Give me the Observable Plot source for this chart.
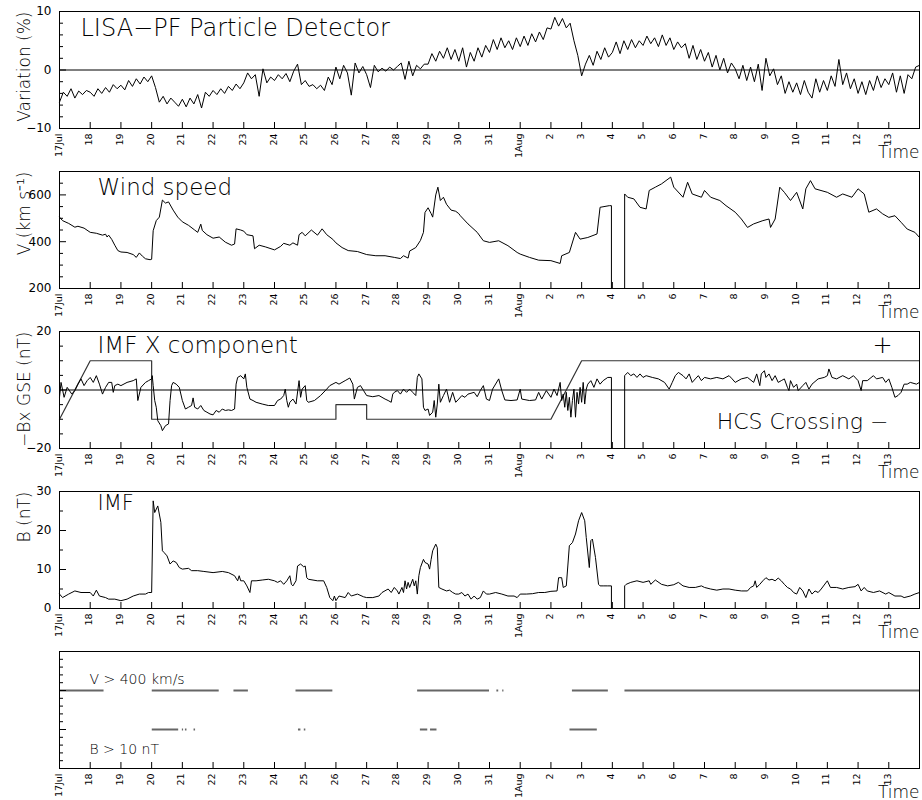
<!DOCTYPE html>
<html>
<head>
<meta charset="utf-8">
<script src="https://cdn.jsdelivr.net/npm/d3@7"></script>
<script src="https://cdn.jsdelivr.net/npm/@observablehq/plot@0.6"></script>
<style>
html, body { margin: 0; padding: 0; background: #fff; }
#chart { width: 922px; }
#chart svg { display: block; }
</style>
</head>
<body>
<div id="chart"></div>
<script>
// ---------- time axis (days since 17 Jul 00:00) ----------
const dayLabels = ["17Jul","18","19","20","21","22","23","24","25","26","27","28","29","30","31",
  "1Aug","2","3","4","5","6","7","8","9","10","11","12","13"];
const timeDomain = [0, 28];

// ---------- Panel 1: LISA-PF particle detector variation (%), 8 samples per day ----------
const particleStep = 0.125;
const particleVar = [
  -5.5,-3.8,-4.5,-3.2,-4.8,-3.6,-4.2,-3.5,   // 17 Jul
  -3.8,-4.5,-3.2,-4.0,-3.0,-3.8,-2.5,-3.2,   // 18
  -2.6,-3.4,-1.8,-2.8,-1.5,-2.4,-1.2,-2.0,   // 19
  -1.0,-3.0,-5.5,-4.5,-5.8,-4.8,-5.5,-6.2,   // 20
  -5.0,-6.3,-4.8,-5.8,-4.2,-6.5,-3.8,-4.5,   // 21
  -3.5,-4.2,-3.2,-4.0,-2.8,-3.5,-2.4,-3.2,   // 22
  -2.2,-0.5,-1.5,-0.8,-4.5, 0.2,-2.2,-1.2,   // 23
  -1.8,-0.8,-1.5,-0.6,-2.0,-0.2, 1.0,-2.5,   // 24
  -1.8,-2.8,-2.5,-3.2,-2.6,-3.5,-1.2,-2.5,   // 25
   0.5,-1.5, 0.8,-0.5,-4.3, 1.2,-0.5, 0.6,   // 26
  -0.8,-3.0, 0.8,-0.3, 0.3,-0.2, 0.5, 0.0,   // 27
   0.6, 1.2,-1.6, 1.5,-1.0, 0.8, 0.2, 1.0,   // 28
   1.0, 2.8, 1.5, 3.2, 2.0, 3.8, 1.8, 3.5,   // 29
   1.5, 3.8, 0.5, 3.0, 1.5, 3.8, 2.2, 4.2,   // 30
   3.0, 5.2, 3.5, 5.5, 3.8, 5.0, 3.5, 5.5,   // 31
   4.0, 5.8, 4.2, 6.2, 4.8, 6.5, 5.2, 7.2,   // 1 Aug
   7.0, 9.0, 7.5, 8.8, 7.2, 8.0, 5.0, 2.5,   // 2
  -1.0, 1.0, 2.5, 0.8, 3.2, 1.8, 3.8, 2.2,   // 3
   3.0, 4.8, 2.8, 5.0, 3.5, 5.2, 3.8, 5.0,   // 4
   4.2, 5.8, 4.5, 5.5, 4.0, 6.0, 4.2, 5.5,   // 5
   3.5, 4.8, 3.8, 4.5, 2.0, 4.2, 1.8, 3.5,   // 6
   1.5, 3.0, 0.5, 2.5, 0.0, 2.0,-0.5, 1.2,   // 7
   0.2,-1.5, 0.8,-1.8, 0.5,-2.0, 1.0,-3.5,   // 8
   2.0,-1.0, 0.2,-2.5,-1.0,-4.0,-2.0,-3.8,   // 9
  -2.2,-4.2,-1.8,-3.8,-4.8,-1.5,-3.8,-1.8,   // 10
  -3.5,-1.0,-2.8, 1.8,-2.5,-0.5,-3.2,-1.5,   // 11
  -4.0,-2.0,-4.2,-1.8,-3.5,-1.0,-3.0,-1.5,   // 12
  -2.5,-0.5,-3.8,-1.0,-4.0,-0.8,-1.5, 0.5,   // 13
   0.8                                       // 14 Aug 00:00
];

// ---------- Panel 2: solar wind speed (km/s) ----------
const windT = [0,0.1,0.3,0.5,0.6,0.8,1.0,1.2,1.4,1.5,
  1.55,1.6,1.7,1.8,1.9,2.0,2.2,2.4,2.5,2.6,
  2.7,2.8,2.95,3.0,3.05,3.15,3.25,3.35,3.45,3.55,
  3.7,3.85,4.0,4.2,4.4,4.5,4.6,4.65,4.8,5.0,
  5.2,5.4,5.6,5.7,5.75,5.9,6.0,6.1,6.3,6.35,
  6.5,6.7,7.0,7.2,7.3,7.5,7.6,7.75,7.8,7.9,
  8.0,8.2,8.4,8.55,8.7,8.9,9.0,9.2,9.4,9.7,
  10.0,10.3,10.6,10.9,11.1,11.2,11.35,11.4,11.6,11.75,
  11.85,11.9,12.0,12.1,12.15,12.25,12.32,12.4,12.5,12.6,
  12.75,12.9,13.0,13.05,13.3,13.6,13.8,14.0,14.3,14.6,
  14.9,15.0,15.3,15.6,16.0,16.3,16.35,16.6,16.8,16.95,
  17.2,17.5,17.6,17.9,17.97,17.97,18.4,18.4,18.5,18.7,
  18.9,19.1,19.2,19.4,19.6,19.9,20.0,20.3,20.45,20.6,
  20.9,21.0,21.2,21.5,21.7,22.0,22.2,22.4,22.6,22.9,
  23.1,23.15,23.3,23.45,23.6,23.8,24.0,24.2,24.3,24.45,
  24.6,25.0,25.3,25.5,25.8,26.0,26.2,26.35,26.6,26.8,
  27.0,27.2,27.4,27.6,27.85,28.0];
const windV = [505,490,478,462,466,458,440,436,428,432,
  420,428,410,385,362,356,354,345,333,352,
  338,327,323,325,447,490,505,578,565,570,
  535,505,485,470,450,440,475,448,430,415,
  420,398,385,390,455,450,445,430,425,370,
  385,378,365,380,393,385,395,385,430,440,
  425,450,428,455,430,410,395,375,362,358,
  345,340,340,333,328,340,330,360,375,405,
  440,525,545,520,505,600,633,576,590,560,
  535,530,520,511,476,440,404,397,404,383,
  354,347,333,321,319,307,340,354,440,411,
  418,433,547,554,554,200,200,604,590,583,
  547,540,619,633,647,676,633,590,654,604,
  590,619,590,576,554,526,497,461,476,490,
  497,461,497,633,611,576,611,540,626,661,
  626,611,590,604,590,626,604,526,540,519,
  504,511,483,454,440,418];

// ---------- Panel 3: -Bx GSE (nT) as [day, value] ----------
const bxSeries = [
  [0,-2.5],[0.05,2.6],[0.15,-2.5],[0.25,0.9],[0.4,-1.4],[0.5,-0.2],[0.6,2.0],[0.7,3.8],[0.8,1.5],[0.9,3.2],
  [1.0,4.3],[1.1,2.6],[1.2,4.9],[1.3,2.0],[1.4,-1.4],[1.5,0.9],[1.6,2.6],[1.7,2.6],[1.75,-0.8],[1.8,1.5],
  [1.9,2.0],[2.0,1.5],[2.2,2.6],[2.4,3.2],[2.5,3.8],[2.55,-3.6],[2.65,0.9],[2.8,2.6],[2.9,3.2],[3.0,3.8],
  [3.02,4.9],[3.05,1.5],[3.1,-3.6],[3.15,-5.9],[3.2,-10.5],[3.3,-12.2],[3.35,-13.9],[3.45,-12.2],[3.55,-11.6],[3.6,-3.6],
  [3.65,1.5],[3.7,2.6],[3.8,2.0],[3.9,0.9],[4.0,-3.6],[4.1,-6.5],[4.2,-5.9],[4.3,-5.3],[4.35,-2.7],[4.4,-5.9],
  [4.5,-6.5],[4.6,-5.3],[4.7,-7.0],[4.8,-7.6],[4.9,-8.2],[5.0,-8.5],[5.1,-7.0],[5.2,-7.6],[5.3,-6.5],[5.4,-7.0],
  [5.5,-6.8],[5.6,-7.0],[5.7,-6.5],[5.75,2.0],[5.8,4.3],[5.9,4.9],[6.0,3.8],[6.05,5.5],[6.1,0.9],[6.2,-3.1],
  [6.3,-3.6],[6.4,-4.2],[6.6,-4.8],[6.8,-5.3],[7.0,-5.3],[7.1,-3.6],[7.2,-3.1],[7.3,-1.9],[7.35,0.3],[7.4,-3.6],
  [7.45,-5.9],[7.5,-4.2],[7.6,-3.1],[7.7,-4.8],[7.8,3.2],[7.85,-2.5],[7.9,0.3],[8.0,1.5],[8.05,-3.6],[8.1,-4.2],
  [8.3,-3.6],[8.5,-1.9],[8.7,0.3],[8.8,1.5],[9.0,2.6],[9.1,2.0],[9.3,3.2],[9.45,4.1],[9.55,2.0],[9.6,-3.1],
  [9.7,0.9],[9.8,1.5],[9.9,-0.2],[10.0,-1.9],[10.2,-2.3],[10.4,-1.9],[10.6,-3.1],[10.7,-3.6],[10.8,-4.2],[10.85,-1.4],
  [10.9,-0.8],[11.0,-0.2],[11.1,-1.4],[11.2,0.3],[11.3,-0.8],[11.4,0.3],[11.5,-0.8],[11.6,-1.9],[11.65,4.3],[11.7,5.5],
  [11.8,3.8],[11.85,-5.9],[11.9,-7.0],[12.0,-6.5],[12.05,-8.7],[12.15,-7.6],[12.2,-3.6],[12.25,-9.3],[12.3,-4.8],[12.35,2.0],
  [12.4,-4.2],[12.5,-1.9],[12.6,0.3],[12.7,-4.2],[12.8,-0.8],[12.9,-4.2],[13.0,-3.1],[13.1,-1.9],[13.2,-2.5],[13.3,-1.4],
  [13.5,-0.8],[13.6,-2.3],[13.7,-0.2],[13.8,1.5],[13.9,-3.1],[14.0,-3.6],[14.1,0.3],[14.3,3.8],[14.4,-0.2],[14.5,-3.4],
  [14.7,-3.6],[14.9,-3.4],[15.0,0.3],[15.05,-3.1],[15.3,-3.6],[15.5,-3.4],[15.6,-0.8],[15.7,-3.1],[15.85,-0.2],[16.0,-2.5],
  [16.1,0.3],[16.2,-1.9],[16.3,2.6],[16.35,-3.6],[16.4,-1.4],[16.45,-5.9],[16.5,-0.8],[16.55,-7.0],[16.6,-2.5],[16.65,-9.3],
  [16.7,-3.6],[16.75,0.3],[16.8,-9.3],[16.85,-0.8],[16.9,-4.8],[16.95,0.9],[17.0,-4.2],[17.05,2.6],[17.1,-4.8],[17.15,0.3],
  [17.2,2.0],[17.3,3.2],[17.4,0.9],[17.5,3.8],[17.6,2.0],[17.7,3.2],[17.85,4.3],[17.97,4.3],[17.97,-20],[18.4,-20],
  [18.4,4.9],[18.5,6.0],[18.6,4.9],[18.7,5.5],[18.8,4.3],[18.9,5.5],[19.0,4.3],[19.1,4.9],[19.3,4.3],[19.5,3.8],
  [19.7,2.6],[19.85,0.3],[19.95,2.6],[20.05,4.9],[20.15,6.0],[20.3,4.9],[20.4,3.8],[20.5,5.5],[20.6,2.6],[20.7,3.8],
  [20.8,4.9],[20.9,3.2],[21.0,4.3],[21.2,3.8],[21.4,4.3],[21.6,3.8],[21.8,4.9],[21.9,3.8],[22.0,2.6],[22.2,3.8],
  [22.4,4.3],[22.6,2.6],[22.7,5.5],[22.8,1.5],[22.85,5.5],[22.95,6.6],[23.0,4.3],[23.1,5.5],[23.2,3.2],[23.3,4.9],
  [23.4,2.6],[23.5,3.2],[23.6,3.8],[23.7,0.9],[23.75,-0.2],[23.8,3.2],[23.9,0.9],[24.0,2.0],[24.05,-0.2],[24.2,1.5],
  [24.3,2.6],[24.4,0.3],[24.5,2.0],[24.7,3.8],[24.9,4.3],[25.0,4.9],[25.05,7.2],[25.15,4.3],[25.3,3.8],[25.5,4.9],
  [25.7,3.8],[25.85,4.9],[26.0,3.2],[26.1,-0.2],[26.15,3.2],[26.3,3.2],[26.5,4.9],[26.6,3.8],[26.8,4.3],[26.9,2.6],
  [27.0,3.8],[27.1,0.9],[27.2,-2.5],[27.3,-1.9],[27.4,-0.8],[27.5,2.0],[27.6,2.0],[27.7,2.6],[27.9,2.0],[28.0,2.6]
];
// HCS crossing polarity (+10 / -10), corners of the step line
const hcsT = [0, 1, 3, 3, 9, 9, 10, 10, 16, 17, 28];
const hcsV = [-10, 10, 10, -10, -10, -5, -5, -10, -10, 10, 10];

// ---------- Panel 4: IMF magnitude B (nT) as [day, value] ----------
const bSeries = [
  [0,3.7],[0.1,2.8],[0.3,3.7],[0.5,4.5],[0.7,4.1],[1.0,4.1],[1.1,3.2],[1.2,4.7],[1.3,3.2],[1.5,2.8],
  [1.6,2.4],[1.8,2.4],[2.0,2.0],[2.2,2.4],[2.4,3.2],[2.6,3.7],[2.8,3.7],[2.9,4.1],[3.0,4.1],[3.05,27.6],
  [3.1,24.6],[3.2,26.3],[3.3,22.1],[3.35,14.8],[3.4,14.4],[3.5,13.5],[3.6,11.4],[3.7,12.2],[3.8,11.8],[3.9,10.5],
  [4.0,10.1],[4.2,10.3],[4.3,9.7],[4.5,9.7],[4.7,9.5],[5.0,9.2],[5.3,9.5],[5.5,9.2],[5.7,8.4],[5.8,7.1],
  [5.85,8.4],[5.9,7.1],[6.0,7.1],[6.1,5.8],[6.2,4.1],[6.25,7.1],[6.4,7.1],[6.6,7.3],[6.8,7.5],[7.0,7.1],
  [7.1,6.7],[7.2,7.1],[7.3,6.2],[7.4,7.1],[7.5,8.4],[7.55,6.2],[7.6,5.8],[7.7,7.1],[7.75,10.9],[7.85,11.4],
  [7.95,10.7],[8.0,10.9],[8.05,7.9],[8.1,7.5],[8.4,7.1],[8.6,7.1],[8.7,5.4],[8.8,2.8],[8.9,2.0],[8.95,3.2],
  [9.0,2.0],[9.1,3.2],[9.3,2.8],[9.4,4.1],[9.5,3.2],[9.7,3.7],[9.9,3.0],[10.0,2.8],[10.2,2.8],[10.4,3.2],
  [10.5,4.1],[10.7,5.0],[10.8,4.1],[10.9,5.4],[11.0,4.5],[11.05,3.7],[11.15,5.4],[11.2,4.1],[11.25,7.1],[11.3,5.0],
  [11.35,6.7],[11.4,5.4],[11.5,7.5],[11.55,5.8],[11.6,7.1],[11.65,3.7],[11.7,8.4],[11.75,10.5],[11.85,12.6],[11.9,11.8],
  [12.0,11.4],[12.05,10.1],[12.1,12.6],[12.15,14.8],[12.25,16.5],[12.3,15.6],[12.35,5.4],[12.45,5.0],[12.6,4.5],[12.7,4.7],
  [12.8,4.1],[12.9,3.7],[13.0,3.7],[13.1,4.1],[13.2,3.2],[13.3,3.7],[13.4,2.4],[13.5,3.2],[13.6,2.4],[13.7,2.8],
  [13.8,4.5],[13.9,3.7],[14.0,3.7],[14.2,4.1],[14.4,3.7],[14.6,3.2],[14.8,3.2],[14.9,2.8],[15.0,3.7],[15.2,3.7],
  [15.4,3.8],[15.6,4.1],[15.8,4.1],[16.0,4.4],[16.2,4.5],[16.25,7.9],[16.35,7.9],[16.4,5.4],[16.5,5.8],[16.55,10.9],
  [16.6,16.1],[16.7,16.9],[16.8,19.1],[16.9,22.5],[17.0,24.6],[17.1,22.5],[17.15,18.2],[17.25,10.5],[17.3,17.4],[17.35,17.8],
  [17.45,13.1],[17.55,6.2],[17.6,5.8],[17.7,5.8],[17.85,5.8],[17.97,5.8],[17.97,0],[18.4,0],[18.4,5.8],[18.45,6.2],
  [18.6,6.7],[18.8,7.1],[19.0,6.7],[19.2,7.1],[19.25,6.2],[19.4,7.3],[19.6,6.2],[19.8,5.8],[20.0,6.1],[20.15,6.7],
  [20.3,5.8],[20.5,5.4],[20.7,5.4],[20.9,5.8],[21.0,5.4],[21.2,5.0],[21.4,4.7],[21.6,5.0],[21.8,5.0],[22.0,4.7],
  [22.2,4.5],[22.4,4.5],[22.5,5.4],[22.6,5.8],[22.65,7.1],[22.7,5.4],[22.8,6.2],[22.9,7.1],[23.0,7.9],[23.1,7.3],
  [23.2,7.5],[23.3,7.1],[23.4,7.8],[23.5,7.1],[23.6,6.2],[23.7,5.4],[23.8,5.0],[23.9,4.1],[24.0,3.7],[24.1,5.4],
  [24.2,4.5],[24.3,2.8],[24.4,5.0],[24.5,3.7],[24.6,4.5],[24.7,4.1],[24.8,5.0],[25.0,7.1],[25.1,5.4],[25.3,5.4],
  [25.5,5.0],[25.7,5.4],[25.9,5.6],[26.0,6.2],[26.1,4.5],[26.2,5.4],[26.3,4.5],[26.5,4.1],[26.7,4.5],[26.9,3.7],
  [27.0,4.1],[27.2,3.2],[27.4,3.2],[27.5,2.8],[27.7,3.2],[27.85,3.7],[28.0,4.1]
];

// ---------- Panel 5: threshold intervals [start day, end day] ----------
const vFast = [[0.0,1.45],[3.02,5.2],[5.68,6.15],[7.7,8.9],[11.66,14.0],[14.24,14.3],[14.43,14.47],[16.7,17.87],[18.41,28.0]];
const bStrong = [[3.02,3.88],[4.0,4.04],[4.1,4.15],[4.38,4.43],[7.78,7.86],[7.97,8.02],[11.75,11.99],[12.08,12.29],[16.62,17.51]];
const flagLevels = {V: 2, B: 1};

// ---------- layout ----------
const W = 922, H = 160, ML = 59, MR = 3, MT = 11, MB = 32;
const innerW = W - ML - MR, innerH = H - MT - MB;
const FONT = "DejaVu Sans";
const dayIdx = dayLabels.map((_, i) => i);

function panel(cfg) {
  const marks = [];
  if (cfg.zero) marks.push(Plot.ruleY([0], {stroke: "black", strokeWidth: 1}));
  marks.push(...cfg.marks);
  // y ticks inside the frame
  marks.push(Plot.ruleY(cfg.minorTicks, {y: d => d, insetRight: innerW - 4, stroke: "black"}));
  marks.push(Plot.ruleY(cfg.majorTicks, {y: d => d, insetRight: innerW - 7, stroke: "black"}));
  // x ticks inside the frame
  marks.push(Plot.ruleX(dayIdx, {x: d => d, insetTop: innerH - 6, stroke: "black"}));
  // x tick labels (rotated)
  marks.push(Plot.text(dayLabels, {x: (d, i) => i, text: d => d, frameAnchor: "bottom", rotate: -90,
    textAnchor: "end", lineAnchor: "middle", dy: 5, dx: -1, fontSize: 9.5, fill: "black"}));
  // y tick labels
  if (cfg.yLabels) {
    marks.push(Plot.text(cfg.yLabels, {y: (d, i) => cfg.yLabelVals[i], text: d => d, frameAnchor: "left",
      textAnchor: "end", lineAnchor: "middle", dx: -8, fontSize: 12, fill: "black"}));
  }
  // y axis title
  if (cfg.yTitle) {
    marks.push(Plot.text([cfg.yTitle], {frameAnchor: "top-left", rotate: -90, textAnchor: "end",
      lineAnchor: "middle", dx: -35, dy: 0, fontSize: 17, fontWeight: 300, fill: "black"}));
  }
  // "Time"
  marks.push(Plot.text(["Time"], {frameAnchor: "bottom-right", textAnchor: "end", lineAnchor: "bottom",
    dx: 0, dy: 29, fontSize: 17, fontWeight: 300, fill: "black"}));
  marks.push(...(cfg.texts || []));
  marks.push(Plot.frame({stroke: "black", strokeWidth: 1}));
  return Plot.plot({
    width: W, height: H,
    marginLeft: ML, marginRight: MR, marginTop: MT, marginBottom: MB,
    style: {fontFamily: FONT, background: "white", overflow: "visible"},
    x: {domain: timeDomain, axis: null},
    y: {domain: cfg.yDomain, axis: null},
    marks
  });
}

function title(text, dx, dy, size) {
  return Plot.text([text], {frameAnchor: "top-left", textAnchor: "start", lineAnchor: "bottom",
    dx, dy, fontSize: size, fontWeight: 300, fill: "black"});
}

const particleRows = particleVar.map((v, i) => ({t: i * particleStep, v}));
const windRows = windT.map((t, i) => ({t, v: windV[i]}));
const hcsRows = hcsT.map((t, i) => ({t, v: hcsV[i]}));

const charts = [
  panel({
    yDomain: [-10, 10], zero: true,
    majorTicks: [-10, 0, 10], minorTicks: [-8, -6, -4, -2, 2, 4, 6, 8],
    yLabels: ["\u221210", "0", "10"], yLabelVals: [-10, 0, 10],
    yTitle: "Variation (%)",
    marks: [Plot.line(particleRows, {x: "t", y: "v", stroke: "black", strokeWidth: 1})],
    texts: [title("LISA\u2212PF Particle Detector", 21, 24, 24)]
  }),
  panel({
    yDomain: [200, 700],
    majorTicks: [200, 400, 600], minorTicks: [250, 300, 350, 450, 500, 550, 650],
    yLabels: ["200", "400", "600"], yLabelVals: [200, 400, 600],
    yTitle: "V (km s\u207B\u00B9)",
    marks: [Plot.line(windRows, {x: "t", y: "v", stroke: "black", strokeWidth: 1})],
    texts: [title("Wind speed", 38, 23, 23)]
  }),
  panel({
    yDomain: [-20, 20], zero: true,
    majorTicks: [-20, 0, 20], minorTicks: [-15, -10, -5, 5, 10, 15],
    yLabels: ["\u221220", "0", "20"], yLabelVals: [-20, 0, 20],
    yTitle: "\u2212Bx GSE (nT)",
    marks: [
      Plot.line(hcsRows, {x: "t", y: "v", stroke: "#333", strokeWidth: 1.2}),
      Plot.line(bxSeries, {x: d => d[0], y: d => d[1], stroke: "black", strokeWidth: 1})
    ],
    texts: [
      title("IMF X component", 38, 21, 23),
      Plot.text(["+"], {frameAnchor: "top-right", textAnchor: "middle", lineAnchor: "middle",
        dx: -37, dy: 14, fontSize: 24, fontWeight: 300, fill: "black"}),
      Plot.text(["HCS Crossing \u2212"], {frameAnchor: "bottom-right", textAnchor: "end", lineAnchor: "bottom",
        dx: -31, dy: -20, fontSize: 22, fontWeight: 300, fill: "black"})
    ]
  }),
  panel({
    yDomain: [0, 30],
    majorTicks: [0, 10, 20, 30], minorTicks: [5, 15, 25],
    yLabels: ["0", "10", "20", "30"], yLabelVals: [0, 10, 20, 30],
    yTitle: "B (nT)",
    marks: [Plot.line(bSeries, {x: d => d[0], y: d => d[1], stroke: "black", strokeWidth: 1})],
    texts: [title("IMF", 38, 18, 21)]
  }),
  panel({
    yDomain: [0, 3],
    majorTicks: [1, 2], minorTicks: [0.2, 0.4, 0.6, 0.8, 1.2, 1.4, 1.6, 1.8, 2.2, 2.4, 2.6, 2.8],
    marks: [
      Plot.ruleY(vFast, {x1: d => d[0], x2: d => d[1], y: () => flagLevels.V, stroke: "#666", strokeWidth: 2}),
      Plot.ruleY(bStrong, {x1: d => d[0], x2: d => d[1], y: () => flagLevels.B, stroke: "#666", strokeWidth: 2})
    ],
    texts: [
      title("V > 400 km/s", 30, 32, 14),
      title("B > 10 nT", 30, 102, 14)
    ]
  })
];

const root = document.getElementById("chart");
for (const c of charts) root.appendChild(c);
</script>
</body>
</html>
